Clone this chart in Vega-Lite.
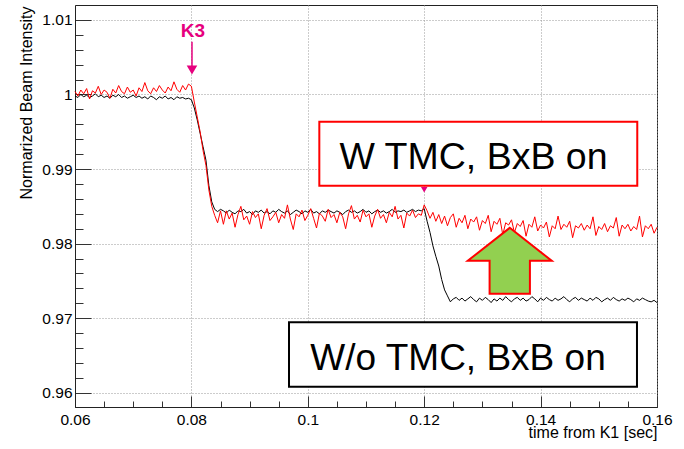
{
  "$schema": "https://vega.github.io/schema/vega-lite/v6.json",
  "width": 582,
  "height": 402,
  "autosize": {"type": "none"},
  "padding": {"left": 75, "top": 5, "right": 27, "bottom": 42},
  "background": "white",
  "config": {
    "font": "Liberation Sans",
    "view": {"stroke": "#222222", "strokeWidth": 1},
    "axis": {
      "domainColor": "#222222",
      "tickColor": "#333333",
      "labelColor": "black",
      "titleColor": "black",
      "labelFont": "Liberation Sans",
      "titleFont": "Liberation Sans",
      "labelFontSize": 15.5,
      "titleFontSize": 16,
      "titleFontWeight": "normal",
      "gridColor": "#999999",
      "gridDash": [1, 2],
      "gridWidth": 1,
      "labelOverlap": false,
      "labelFlush": false,
      "tickCount": 200
    }
  },
  "datasets": {
    "beam": [
      {"t":0.0600,"wo":0.9998,"w":1.0004},{"t":0.0605,"wo":0.9996,"w":0.9998},{"t":0.0610,"wo":1.0000,"w":1.0006},{"t":0.0615,"wo":0.9997,"w":1.0001},{"t":0.0620,"wo":0.9999,"w":1.0008},
      {"t":0.0625,"wo":0.9996,"w":0.9994},{"t":0.0630,"wo":0.9998,"w":1.0005},{"t":0.0635,"wo":1.0001,"w":1.0002},{"t":0.0640,"wo":0.9997,"w":1.0011},{"t":0.0645,"wo":0.9999,"w":1.0000},
      {"t":0.0650,"wo":0.9996,"w":1.0006},{"t":0.0655,"wo":0.9998,"w":1.0003},{"t":0.0660,"wo":0.9995,"w":0.9995},{"t":0.0665,"wo":0.9999,"w":1.0007},{"t":0.0670,"wo":0.9997,"w":1.0002},
      {"t":0.0675,"wo":1.0000,"w":1.0012},{"t":0.0680,"wo":0.9996,"w":1.0004},{"t":0.0685,"wo":0.9998,"w":1.0001},{"t":0.0690,"wo":0.9995,"w":1.0010},{"t":0.0695,"wo":0.9997,"w":1.0003},
      {"t":0.0700,"wo":0.9999,"w":1.0006},{"t":0.0705,"wo":0.9996,"w":0.9998},{"t":0.0710,"wo":0.9998,"w":1.0009},{"t":0.0715,"wo":0.9995,"w":1.0004},{"t":0.0720,"wo":0.9997,"w":1.0016},
      {"t":0.0725,"wo":0.9994,"w":1.0005},{"t":0.0730,"wo":0.9998,"w":1.0001},{"t":0.0735,"wo":0.9996,"w":1.0009},{"t":0.0740,"wo":0.9993,"w":1.0004},{"t":0.0745,"wo":0.9997,"w":1.0012},
      {"t":0.0750,"wo":0.9995,"w":1.0006},{"t":0.0755,"wo":0.9998,"w":1.0002},{"t":0.0760,"wo":0.9994,"w":1.0010},{"t":0.0765,"wo":0.9996,"w":1.0005},{"t":0.0770,"wo":0.9993,"w":1.0017},
      {"t":0.0775,"wo":0.9997,"w":1.0007},{"t":0.0780,"wo":0.9995,"w":1.0003},{"t":0.0785,"wo":0.9996,"w":1.0012},{"t":0.0790,"wo":0.9994,"w":1.0006},{"t":0.0795,"wo":0.9995,"w":1.0014},
      {"t":0.0800,"wo":0.9993,"w":1.0011},{"t":0.0805,"wo":0.9982,"w":0.9990},{"t":0.0810,"wo":0.9966,"w":0.9970},{"t":0.0815,"wo":0.9948,"w":0.9950},{"t":0.0820,"wo":0.9930,"w":0.9925},
      {"t":0.0825,"wo":0.9912,"w":0.9905},{"t":0.0830,"wo":0.9878,"w":0.9872},{"t":0.0835,"wo":0.9856,"w":0.9850},{"t":0.0840,"wo":0.9846,"w":0.9838},{"t":0.0845,"wo":0.9843,"w":0.9828},
      {"t":0.0850,"wo":0.9846,"w":0.9844},{"t":0.0855,"wo":0.9844,"w":0.9826},{"t":0.0860,"wo":0.9841,"w":0.9844},{"t":0.0865,"wo":0.9845,"w":0.9833},{"t":0.0870,"wo":0.9842,"w":0.9841},
      {"t":0.0875,"wo":0.9840,"w":0.9822},{"t":0.0880,"wo":0.9844,"w":0.9839},{"t":0.0885,"wo":0.9843,"w":0.9850},{"t":0.0890,"wo":0.9846,"w":0.9832},{"t":0.0895,"wo":0.9841,"w":0.9837},
      {"t":0.0900,"wo":0.9843,"w":0.9826},{"t":0.0905,"wo":0.9839,"w":0.9843},{"t":0.0910,"wo":0.9844,"w":0.9835},{"t":0.0915,"wo":0.9842,"w":0.9840},{"t":0.0920,"wo":0.9845,"w":0.9820},
      {"t":0.0925,"wo":0.9841,"w":0.9838},{"t":0.0930,"wo":0.9843,"w":0.9847},{"t":0.0935,"wo":0.9840,"w":0.9831},{"t":0.0940,"wo":0.9844,"w":0.9836},{"t":0.0945,"wo":0.9842,"w":0.9842},
      {"t":0.0950,"wo":0.9846,"w":0.9828},{"t":0.0955,"wo":0.9843,"w":0.9839},{"t":0.0960,"wo":0.9841,"w":0.9834},{"t":0.0965,"wo":0.9844,"w":0.9852},{"t":0.0970,"wo":0.9839,"w":0.9833},
      {"t":0.0975,"wo":0.9842,"w":0.9819},{"t":0.0980,"wo":0.9845,"w":0.9840},{"t":0.0985,"wo":0.9843,"w":0.9836},{"t":0.0990,"wo":0.9840,"w":0.9845},{"t":0.0995,"wo":0.9844,"w":0.9831},
      {"t":0.1000,"wo":0.9842,"w":0.9838},{"t":0.1005,"wo":0.9846,"w":0.9847},{"t":0.1010,"wo":0.9841,"w":0.9834},{"t":0.1015,"wo":0.9843,"w":0.9821},{"t":0.1020,"wo":0.9840,"w":0.9841},
      {"t":0.1025,"wo":0.9844,"w":0.9837},{"t":0.1030,"wo":0.9842,"w":0.9830},{"t":0.1035,"wo":0.9845,"w":0.9846},{"t":0.1040,"wo":0.9843,"w":0.9835},{"t":0.1045,"wo":0.9841,"w":0.9839},
      {"t":0.1050,"wo":0.9844,"w":0.9828},{"t":0.1055,"wo":0.9842,"w":0.9842},{"t":0.1060,"wo":0.9839,"w":0.9836},{"t":0.1065,"wo":0.9843,"w":0.9820},{"t":0.1070,"wo":0.9845,"w":0.9840},
      {"t":0.1075,"wo":0.9842,"w":0.9851},{"t":0.1080,"wo":0.9844,"w":0.9833},{"t":0.1085,"wo":0.9841,"w":0.9838},{"t":0.1090,"wo":0.9843,"w":0.9829},{"t":0.1095,"wo":0.9846,"w":0.9845},
      {"t":0.1100,"wo":0.9842,"w":0.9836},{"t":0.1105,"wo":0.9844,"w":0.9840},{"t":0.1110,"wo":0.9840,"w":0.9822},{"t":0.1115,"wo":0.9843,"w":0.9837},{"t":0.1120,"wo":0.9845,"w":0.9846},
      {"t":0.1125,"wo":0.9842,"w":0.9834},{"t":0.1130,"wo":0.9844,"w":0.9839},{"t":0.1135,"wo":0.9841,"w":0.9828},{"t":0.1140,"wo":0.9843,"w":0.9842},{"t":0.1145,"wo":0.9846,"w":0.9836},
      {"t":0.1150,"wo":0.9842,"w":0.9850},{"t":0.1155,"wo":0.9844,"w":0.9833},{"t":0.1160,"wo":0.9843,"w":0.9838},{"t":0.1165,"wo":0.9845,"w":0.9821},{"t":0.1170,"wo":0.9842,"w":0.9841},
      {"t":0.1175,"wo":0.9844,"w":0.9837},{"t":0.1180,"wo":0.9846,"w":0.9845},{"t":0.1185,"wo":0.9843,"w":0.9835},{"t":0.1190,"wo":0.9845,"w":0.9840},{"t":0.1195,"wo":0.9844,"w":0.9838},
      {"t":0.1200,"wo":0.9847,"w":0.9852},{"t":0.1205,"wo":0.9830,"w":0.9844},{"t":0.1210,"wo":0.9815,"w":0.9834},{"t":0.1215,"wo":0.9797,"w":0.9842},{"t":0.1220,"wo":0.9783,"w":0.9830},
      {"t":0.1225,"wo":0.9770,"w":0.9839},{"t":0.1230,"wo":0.9752,"w":0.9827},{"t":0.1235,"wo":0.9738,"w":0.9837},{"t":0.1240,"wo":0.9730,"w":0.9824},{"t":0.1245,"wo":0.9722,"w":0.9835},
      {"t":0.1250,"wo":0.9726,"w":0.9840},{"t":0.1255,"wo":0.9728,"w":0.9822},{"t":0.1260,"wo":0.9724,"w":0.9834},{"t":0.1265,"wo":0.9727,"w":0.9828},{"t":0.1270,"wo":0.9723,"w":0.9838},
      {"t":0.1275,"wo":0.9726,"w":0.9820},{"t":0.1280,"wo":0.9729,"w":0.9833},{"t":0.1285,"wo":0.9725,"w":0.9829},{"t":0.1290,"wo":0.9722,"w":0.9836},{"t":0.1295,"wo":0.9727,"w":0.9818},
      {"t":0.1300,"wo":0.9724,"w":0.9831},{"t":0.1305,"wo":0.9728,"w":0.9827},{"t":0.1310,"wo":0.9725,"w":0.9838},{"t":0.1315,"wo":0.9721,"w":0.9816},{"t":0.1320,"wo":0.9726,"w":0.9830},
      {"t":0.1325,"wo":0.9723,"w":0.9826},{"t":0.1330,"wo":0.9727,"w":0.9834},{"t":0.1335,"wo":0.9724,"w":0.9812},{"t":0.1340,"wo":0.9729,"w":0.9828},{"t":0.1345,"wo":0.9725,"w":0.9825},
      {"t":0.1350,"wo":0.9722,"w":0.9832},{"t":0.1355,"wo":0.9726,"w":0.9815},{"t":0.1360,"wo":0.9728,"w":0.9827},{"t":0.1365,"wo":0.9724,"w":0.9823},{"t":0.1370,"wo":0.9727,"w":0.9831},
      {"t":0.1375,"wo":0.9723,"w":0.9810},{"t":0.1380,"wo":0.9725,"w":0.9826},{"t":0.1385,"wo":0.9729,"w":0.9822},{"t":0.1390,"wo":0.9726,"w":0.9836},{"t":0.1395,"wo":0.9722,"w":0.9817},
      {"t":0.1400,"wo":0.9727,"w":0.9825},{"t":0.1405,"wo":0.9724,"w":0.9821},{"t":0.1410,"wo":0.9728,"w":0.9829},{"t":0.1415,"wo":0.9725,"w":0.9809},{"t":0.1420,"wo":0.9723,"w":0.9824},
      {"t":0.1425,"wo":0.9727,"w":0.9820},{"t":0.1430,"wo":0.9724,"w":0.9837},{"t":0.1435,"wo":0.9726,"w":0.9819},{"t":0.1440,"wo":0.9729,"w":0.9826},{"t":0.1445,"wo":0.9725,"w":0.9822},
      {"t":0.1450,"wo":0.9722,"w":0.9830},{"t":0.1455,"wo":0.9726,"w":0.9808},{"t":0.1460,"wo":0.9728,"w":0.9824},{"t":0.1465,"wo":0.9724,"w":0.9821},{"t":0.1470,"wo":0.9727,"w":0.9827},
      {"t":0.1475,"wo":0.9725,"w":0.9818},{"t":0.1480,"wo":0.9723,"w":0.9825},{"t":0.1485,"wo":0.9727,"w":0.9820},{"t":0.1490,"wo":0.9724,"w":0.9836},{"t":0.1495,"wo":0.9728,"w":0.9811},
      {"t":0.1500,"wo":0.9726,"w":0.9823},{"t":0.1505,"wo":0.9722,"w":0.9819},{"t":0.1510,"wo":0.9725,"w":0.9827},{"t":0.1515,"wo":0.9727,"w":0.9816},{"t":0.1520,"wo":0.9724,"w":0.9824},
      {"t":0.1525,"wo":0.9728,"w":0.9821},{"t":0.1530,"wo":0.9725,"w":0.9835},{"t":0.1535,"wo":0.9723,"w":0.9810},{"t":0.1540,"wo":0.9726,"w":0.9825},{"t":0.1545,"wo":0.9724,"w":0.9820},
      {"t":0.1550,"wo":0.9727,"w":0.9826},{"t":0.1555,"wo":0.9725,"w":0.9817},{"t":0.1560,"wo":0.9722,"w":0.9823},{"t":0.1565,"wo":0.9726,"w":0.9819},{"t":0.1570,"wo":0.9724,"w":0.9837},
      {"t":0.1575,"wo":0.9727,"w":0.9809},{"t":0.1580,"wo":0.9725,"w":0.9824},{"t":0.1585,"wo":0.9723,"w":0.9820},{"t":0.1590,"wo":0.9722,"w":0.9826},{"t":0.1595,"wo":0.9724,"w":0.9814},
      {"t":0.1600,"wo":0.9721,"w":0.9822}
    ]
  },
  "layer": [
    {
      "data": {"name": "beam"},
      "mark": {"type": "line", "color": "black", "strokeWidth": 1},
      "encoding": {
        "x": {
          "field": "t", "type": "quantitative",
          "scale": {"domain": [0.06, 0.16], "nice": false, "zero": false},
          "axis": {
            "title": "time from K1 [sec]",
            "values": [0.06, 0.065, 0.07, 0.075, 0.08, 0.085, 0.09, 0.095, 0.1, 0.105, 0.11, 0.115, 0.12, 0.125, 0.13, 0.135, 0.14, 0.145, 0.15, 0.155, 0.16],
            "tickCount": 200,
            "labelExpr": "abs(datum.value*50-round(datum.value*50))<0.01 ? format(datum.value,'~g') : ''",
            "tickSize": {"condition": {"test": "abs(datum.value*50-round(datum.value*50))<0.01", "value": -11}, "value": -6},
            "gridOpacity": {"condition": {"test": "abs(datum.value*50-round(datum.value*50))<0.01", "value": 1}, "value": 0},
            "grid": true,
            "labelPadding": 16,
            "titleAnchor": "end",
            "titleAlign": "right",
            "titleBaseline": "alphabetic",
            "titleX": 582,
            "titleY": 30
          }
        },
        "y": {
          "field": "wo", "type": "quantitative",
          "scale": {"domain": [0.9581, 1.012], "nice": false, "zero": false},
          "axis": {
            "title": "Normarized Beam Intensity",
            "values": [0.96, 0.962, 0.964, 0.966, 0.968, 0.97, 0.972, 0.974, 0.976, 0.978, 0.98, 0.982, 0.984, 0.986, 0.988, 0.99, 0.992, 0.994, 0.996, 0.998, 1, 1.002, 1.004, 1.006, 1.008, 1.01],
            "tickCount": 200,
            "labelExpr": "abs(datum.value*100-round(datum.value*100))<0.01 ? format(datum.value,'~g') : ''",
            "tickSize": {"condition": {"test": "abs(datum.value*100-round(datum.value*100))<0.01", "value": -16}, "value": -8},
            "gridOpacity": {"condition": {"test": "abs(datum.value*100-round(datum.value*100))<0.01", "value": 1}, "value": 0},
            "grid": true,
            "labelPadding": 19,
            "titleAngle": -90,
            "titleAnchor": "end",
            "titleAlign": "right",
            "titleBaseline": "alphabetic",
            "titleX": -44,
            "titleY": 1
          }
        }
      }
    },
    {
      "data": {"name": "beam"},
      "mark": {"type": "line", "color": "#ff0000", "strokeWidth": 1},
      "encoding": {
        "x": {"field": "t", "type": "quantitative"},
        "y": {"field": "w", "type": "quantitative"}
      }
    },
    {
      "data": {"values": [{"label": "W TMC, BxB on"}]},
      "layer": [
        {
          "mark": {"type": "rect", "fill": "white", "stroke": "#ff0000", "strokeWidth": 2},
          "encoding": {
            "x": {"datum": 0.10198}, "x2": {"datum": 0.15661},
            "y": {"datum": 0.99636}, "y2": {"datum": 0.98775}
          }
        },
        {
          "mark": {"type": "text", "fontSize": 37.5, "align": "center", "baseline": "alphabetic", "color": "black"},
          "encoding": {
            "x": {"datum": 0.12847}, "y": {"datum": 0.99003},
            "text": {"field": "label"}
          }
        }
      ]
    },
    {
      "data": {"values": [{"label": "W/o TMC, BxB on"}]},
      "layer": [
        {
          "mark": {"type": "rect", "fill": "white", "stroke": "black", "strokeWidth": 2},
          "encoding": {
            "x": {"datum": 0.09677}, "x2": {"datum": 0.15656},
            "y": {"datum": 0.96945}, "y2": {"datum": 0.9608}
          }
        },
        {
          "mark": {"type": "text", "fontSize": 37, "align": "center", "baseline": "alphabetic", "color": "black"},
          "encoding": {
            "x": {"datum": 0.12581}, "y": {"datum": 0.96312},
            "text": {"field": "label"}
          }
        }
      ]
    },
    {
      "data": {"values": [{"label": "K3"}]},
      "layer": [
        {
          "mark": {"type": "text", "fontSize": 19, "fontWeight": "bold", "align": "center", "baseline": "alphabetic", "color": "#e6007e"},
          "encoding": {
            "x": {"datum": 0.08027}, "y": {"datum": 1.0077},
            "text": {"field": "label"}
          }
        },
        {
          "mark": {"type": "rule", "color": "#e6007e", "strokeWidth": 1.5},
          "encoding": {
            "x": {"datum": 0.0801},
            "y": {"datum": 1.00707}, "y2": {"datum": 1.0037}
          }
        },
        {
          "mark": {"type": "point", "shape": "triangle-down", "size": 112, "filled": true, "color": "#e6007e", "opacity": 1},
          "encoding": {
            "x": {"datum": 0.0801}, "y": {"datum": 1.00328}
          }
        },
        {
          "mark": {"type": "point", "shape": "triangle-down", "size": 42, "filled": true, "color": "#e6007e", "opacity": 1},
          "encoding": {
            "x": {"datum": 0.12}, "y": {"datum": 0.98722}
          }
        }
      ]
    },
    {
      "data": {"values": [{"label": "up"}]},
      "mark": {
        "type": "point",
        "shape": "M0,-0.786L1,0L0.48,0L0.48,0.786L-0.48,0.786L-0.48,0L-1,0Z",
        "size": 7056,
        "filled": true,
        "fill": "#92d050",
        "stroke": "#ff0000",
        "strokeWidth": 2,
        "opacity": 1,
        "fillOpacity": 1,
        "strokeOpacity": 1
      },
      "encoding": {
        "x": {"datum": 0.1347}, "y": {"datum": 0.9777}
      }
    }
  ]
}
